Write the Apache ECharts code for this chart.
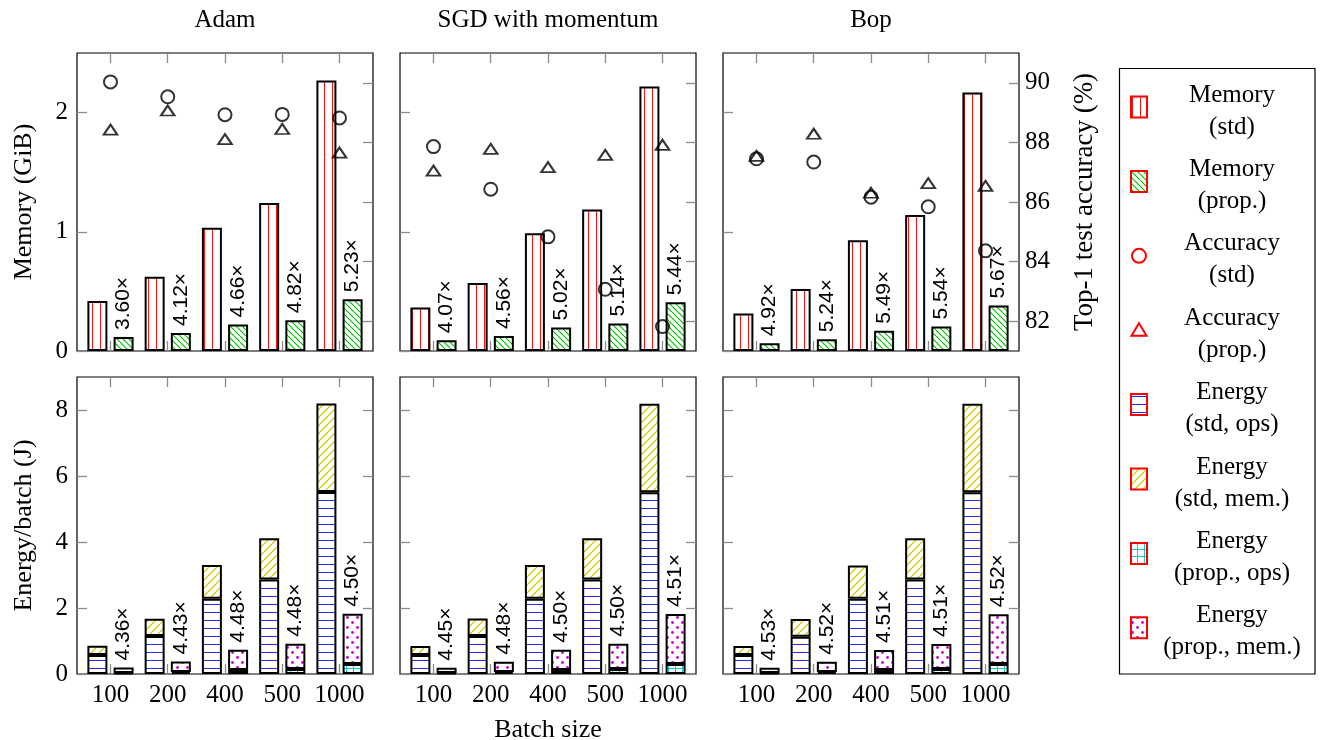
<!DOCTYPE html>
<html><head><meta charset="utf-8">
<script src="https://cdn.jsdelivr.net/npm/echarts@6/dist/echarts.min.js"></script>
<style>html,body{margin:0;padding:0;background:#fff}#c{width:1320px;height:740px}</style>
</head><body><div id="c"></div>
<script>
// ---------- data ----------
const batchSizes = ['100', '200', '400', '500', '1000'];
const optimizers = ['Adam', 'SGD with momentum', 'Bop'];
const memTicks = [0, 1, 2];
const accTicks = [82, 84, 86, 88, 90];
const energyTicks = [0, 2, 4, 6, 8];

// Memory (GiB)
const memStdAdam  = [0.42, 0.622, 1.034, 1.241, 2.269];
const memPropAdam = [0.117, 0.151, 0.222, 0.257, 0.434];
const memRatioAdam = ['3.60', '4.12', '4.66', '4.82', '5.23'];
const memStdSGD  = [0.365, 0.571, 0.987, 1.188, 2.218];
const memPropSGD = [0.090, 0.125, 0.197, 0.231, 0.408];
const memRatioSGD = ['4.07', '4.56', '5.02', '5.14', '5.44'];
const memStdBop  = [0.314, 0.521, 0.930, 1.140, 2.168];
const memPropBop = [0.064, 0.099, 0.169, 0.206, 0.382];
const memRatioBop = ['4.92', '5.24', '5.49', '5.54', '5.67'];

// Top-1 test accuracy (%)
const accStdAdam  = [90.03, 89.53, 88.93, 88.94, 88.82];
const accPropAdam = [88.43, 89.07, 88.11, 88.45, 87.66];
const accStdSGD   = [87.86, 86.43, 84.83, 83.07, 81.82];
const accPropSGD  = [87.05, 87.78, 87.17, 87.58, 87.92];
const accStdBop   = [87.45, 87.34, 86.16, 85.84, 84.36];
const accPropBop  = [87.55, 88.29, 86.31, 86.63, 86.54];

// Energy per batch (J)
const eStdOpsAdam  = [0.576, 1.15, 2.28, 2.86, 5.515];
const eStdMemAdam  = [0.282, 0.527, 1.02, 1.25, 2.685];
const ePropOpsAdam = [0.03, 0.06, 0.12, 0.15, 0.30];
const ePropMemAdam = [0.167, 0.319, 0.617, 0.767, 1.522];
const eRatioAdam = ['4.36', '4.43', '4.48', '4.48', '4.50'];
const eStdOpsSGD  = [0.576, 1.15, 2.28, 2.86, 5.51];
const eStdMemSGD  = [0.274, 0.53, 1.02, 1.25, 2.68];
const ePropOpsSGD = [0.03, 0.06, 0.12, 0.15, 0.30];
const ePropMemSGD = [0.161, 0.315, 0.613, 0.763, 1.516];
const eRatioSGD = ['4.45', '4.48', '4.50', '4.50', '4.51'];
const eStdOpsBop  = [0.576, 1.13, 2.28, 2.86, 5.51];
const eStdMemBop  = [0.274, 0.54, 1.01, 1.25, 2.68];
const ePropOpsBop = [0.03, 0.06, 0.12, 0.15, 0.30];
const ePropMemBop = [0.158, 0.309, 0.61, 0.761, 1.51];
const eRatioBop = ['4.53', '4.52', '4.51', '4.51', '4.52'];

const legendNames = [
  ['Memory', '(std)'], ['Memory', '(prop.)'], ['Accuracy', '(std)'], ['Accuracy', '(prop.)'],
  ['Energy', '(std, ops)'], ['Energy', '(std, mem.)'], ['Energy', '(prop., ops)'], ['Energy', '(prop., mem.)']
];

// ---------- patterns ----------
function pat(w, h, draw) {
  const c = document.createElement('canvas');
  c.width = w; c.height = h;
  const g = c.getContext('2d');
  g.fillStyle = '#fff'; g.fillRect(0, 0, w, h);
  draw(g, w, h);
  return { image: c, repeat: 'repeat' };
}
function diag(g, s, back, color, lw) {
  g.strokeStyle = color; g.lineWidth = lw; g.beginPath();
  for (let k = -1; k <= 1; k++) {
    if (back) { g.moveTo(k * s, 0); g.lineTo(k * s + s, s); }
    else { g.moveTo(k * s, s); g.lineTo(k * s + s, 0); }
  }
  g.stroke();
}
const P = {
  memStd: pat(8, 8, g => { g.fillStyle = '#ff1010'; g.fillRect(4, 0, 1, 8); }),
  memProp: pat(6, 6, g => diag(g, 6, true, '#00c000', 1.2)),
  eStdOps: pat(8, 8, g => { g.fillStyle = '#2a2aff'; g.fillRect(0, 4, 8, 1); }),
  eStdMem: pat(8, 8, g => diag(g, 8, false, '#d8cc00', 1.3)),
  ePropOps: pat(7, 7, g => { g.fillStyle = '#10c8c8'; g.fillRect(3, 0, 1, 7); g.fillRect(0, 3, 7, 1); }),
  ePropMem: pat(10, 10, g => { g.fillStyle = '#d000d0';
    g.beginPath(); g.arc(2.5, 2.5, 1.4, 0, Math.PI * 2); g.fill();
    g.beginPath(); g.arc(7.5, 7.5, 1.4, 0, Math.PI * 2); g.fill(); })
};

// ---------- layout ----------
const serif = 'Liberation Serif';
const sans = 'Liberation Sans';
const FS = 25;
const NFS = 26;
const colLeft = [77, 400, 723];
const W = 296;
const rows = [{ top: 53, height: 298 }, { top: 377, height: 297 }];
const idx = batchSizes.map((_, i) => i);
const tickStyle = { show: true, inside: true, length: 10, lineStyle: { color: '#8c8c8c', width: 1.3 } };
const noLine = { show: false, onZero: false };
const barBorder = { borderColor: '#000', borderWidth: 2 };

const grids = [], xAxes = [], yAxes = [], series = [];

const memStd = [memStdAdam, memStdSGD, memStdBop];
const memProp = [memPropAdam, memPropSGD, memPropBop];
const memRatio = [memRatioAdam, memRatioSGD, memRatioBop];
const accStd = [accStdAdam, accStdSGD, accStdBop];
const accProp = [accPropAdam, accPropSGD, accPropBop];
const eStdOps = [eStdOpsAdam, eStdOpsSGD, eStdOpsBop];
const eStdMem = [eStdMemAdam, eStdMemSGD, eStdMemBop];
const ePropOps = [ePropOpsAdam, ePropOpsSGD, ePropOpsBop];
const ePropMem = [ePropMemAdam, ePropMemSGD, ePropMemBop];
const eRatio = [eRatioAdam, eRatioSGD, eRatioBop];

function ratioLabel(arr) {
  return {
    show: true, position: 'top', rotate: 90, align: 'left', verticalAlign: 'middle', distance: 7,
    formatter: p => arr[p.dataIndex] + '×', fontFamily: sans, fontSize: 21, color: '#000'
  };
}
// value first, position index second (encode maps them) so that stacking acts on the value
const vals = arr => idx.map(i => [arr[i], i]);
const enc = { x: 1, y: 0 };

for (let r = 0; r < 2; r++) {
  for (let c = 0; c < 3; c++) {
    const gi = grids.length;
    grids.push({ left: colLeft[c], top: rows[r].top, width: W, height: rows[r].height,
      outerBoundsMode: 'none', containLabel: false,
      show: true, borderColor: '#000', borderWidth: 1.2, backgroundColor: 'transparent' });
    const xb = xAxes.length;
    xAxes.push({
      type: 'value', gridIndex: gi, position: 'bottom', min: -0.585, max: 4.585,
      axisLine: noLine, splitLine: { show: false },
      axisTick: Object.assign({}, tickStyle, { customValues: idx }),
      axisLabel: { show: r === 1, customValues: idx, formatter: v => batchSizes[Math.round(v)],
        fontFamily: serif, fontSize: FS, color: '#000', margin: 9 },
      name: (r === 1 && c === 1) ? 'Batch size' : '', nameLocation: 'middle', nameGap: 43,
      nameTextStyle: { fontFamily: serif, fontSize: NFS, color: '#000' }
    });
    xAxes.push({
      type: 'value', gridIndex: gi, position: 'top', min: -0.585, max: 4.585,
      axisLine: noLine, splitLine: { show: false },
      axisTick: Object.assign({}, tickStyle, { customValues: idx }),
      axisLabel: { show: false, customValues: idx }
    });
    const yl = yAxes.length;
    const leftTicks = r === 0 ? memTicks : energyTicks;
    yAxes.push({
      type: 'value', gridIndex: gi, position: 'left', min: 0, max: r === 0 ? 2.5 : 9,
      axisLine: noLine, splitLine: { show: false },
      axisTick: Object.assign({}, tickStyle, { customValues: leftTicks }),
      axisLabel: { show: c === 0, customValues: leftTicks, fontFamily: serif, fontSize: FS, color: '#000', margin: 9 },
      name: c === 0 ? (r === 0 ? 'Memory (GiB)' : 'Energy/batch (J)') : '',
      nameLocation: 'middle', nameRotate: 90, nameGap: 40,
      nameTextStyle: { fontFamily: serif, fontSize: NFS, color: '#000' }
    });
    const yr = yAxes.length;
    const rightTicks = r === 0 ? accTicks : energyTicks;
    yAxes.push({
      type: 'value', gridIndex: gi, position: 'right', min: r === 0 ? 81 : 0, max: r === 0 ? 91 : 9,
      axisLine: noLine, splitLine: { show: false },
      axisTick: Object.assign({}, tickStyle, { customValues: rightTicks }),
      axisLabel: { show: r === 0 && c === 2, customValues: rightTicks, fontFamily: serif, fontSize: FS, color: '#000', margin: 6 },
      name: (r === 0 && c === 2) ? 'Top-1 test accuracy (%)' : '',
      nameLocation: 'middle', nameRotate: 90, nameGap: 52,
      nameTextStyle: { fontFamily: serif, fontSize: 27, color: '#000' }
    });

    const common = { type: 'bar', xAxisIndex: xb, yAxisIndex: yl, encode: enc, barWidth: 20, barGap: '31%',
      animation: false, silent: true };
    if (r === 0) {
      series.push(Object.assign({}, common, { name: 'Memory (std)', data: vals(memStd[c]),
        itemStyle: Object.assign({ color: P.memStd }, barBorder) }));
      series.push(Object.assign({}, common, { name: 'Memory (prop.)', data: vals(memProp[c]),
        itemStyle: Object.assign({ color: P.memProp }, barBorder), label: ratioLabel(memRatio[c]) }));
      series.push({ type: 'scatter', name: 'Accuracy (std)', xAxisIndex: xb, yAxisIndex: yr, encode: enc, z: 5, silent: true,
        symbol: 'circle', symbolSize: 13, data: vals(accStd[c]),
        itemStyle: { color: 'rgba(0,0,0,0)', borderColor: '#000', borderWidth: 2 } });
      series.push({ type: 'scatter', name: 'Accuracy (prop.)', xAxisIndex: xb, yAxisIndex: yr, encode: enc, z: 5, silent: true,
        symbol: 'triangle', symbolSize: [13.5, 10], data: vals(accProp[c]),
        itemStyle: { color: 'rgba(0,0,0,0)', borderColor: '#000', borderWidth: 2 } });
    } else {
      series.push(Object.assign({}, common, { name: 'Energy (std, ops)', stack: 'std' + c, data: vals(eStdOps[c]),
        itemStyle: Object.assign({ color: P.eStdOps }, barBorder) }));
      series.push(Object.assign({}, common, { name: 'Energy (std, mem.)', stack: 'std' + c, data: vals(eStdMem[c]),
        itemStyle: Object.assign({ color: P.eStdMem }, barBorder) }));
      series.push(Object.assign({}, common, { name: 'Energy (prop., ops)', stack: 'prop' + c, data: vals(ePropOps[c]),
        itemStyle: Object.assign({ color: P.ePropOps }, barBorder) }));
      series.push(Object.assign({}, common, { name: 'Energy (prop., mem.)', stack: 'prop' + c, data: vals(ePropMem[c]),
        itemStyle: Object.assign({ color: P.ePropMem }, barBorder), label: ratioLabel(eRatio[c]) }));
    }
  }
}

// ---------- titles + legend (graphic) ----------
const graphics = [];
optimizers.forEach((t, c) => {
  graphics.push({ type: 'text', x: colLeft[c] + W / 2, y: 20,
    style: { text: t, fontFamily: serif, fontSize: FS, fill: '#000', textAlign: 'center', textVerticalAlign: 'middle' } });
});
graphics.push({ type: 'rect', shape: { x: 1119.5, y: 68.5, width: 195.5, height: 605.5 },
  style: { fill: '#fff', stroke: '#000', lineWidth: 1.2 } });
const legendPatterns = [P.memStd, P.memProp, null, null, P.eStdOps, P.eStdMem, P.ePropOps, P.ePropMem];
legendNames.forEach((nm, i) => {
  const yc = 107 + 74.4 * i;
  if (i === 2) {
    graphics.push({ type: 'circle', shape: { cx: 1139, cy: yc, r: 7 }, style: { fill: 'none', stroke: '#ff0000', lineWidth: 2 } });
  } else if (i === 3) {
    graphics.push({ type: 'polygon', shape: { points: [[1139, yc - 7], [1146.5, yc + 5.5], [1131.5, yc + 5.5]] },
      style: { fill: 'none', stroke: '#ff0000', lineWidth: 2 } });
  } else {
    graphics.push({ type: 'rect', shape: { x: 1131, y: yc - 10.5, width: 16, height: 21 },
      style: { fill: legendPatterns[i], stroke: '#ff0000', lineWidth: 2 } });
  }
  graphics.push({ type: 'text', x: 1232, y: yc + 4,
    style: { text: nm.join('\n'), fontFamily: serif, fontSize: FS, lineHeight: 32, fill: '#000',
      textAlign: 'center', textVerticalAlign: 'middle' } });
});

const chart = echarts.init(document.getElementById('c'), null, { renderer: 'canvas' });
chart.setOption({
  animation: false,
  backgroundColor: '#fff',
  grid: grids, xAxis: xAxes, yAxis: yAxes, series: series,
  graphic: graphics
});
</script>
</body></html>
